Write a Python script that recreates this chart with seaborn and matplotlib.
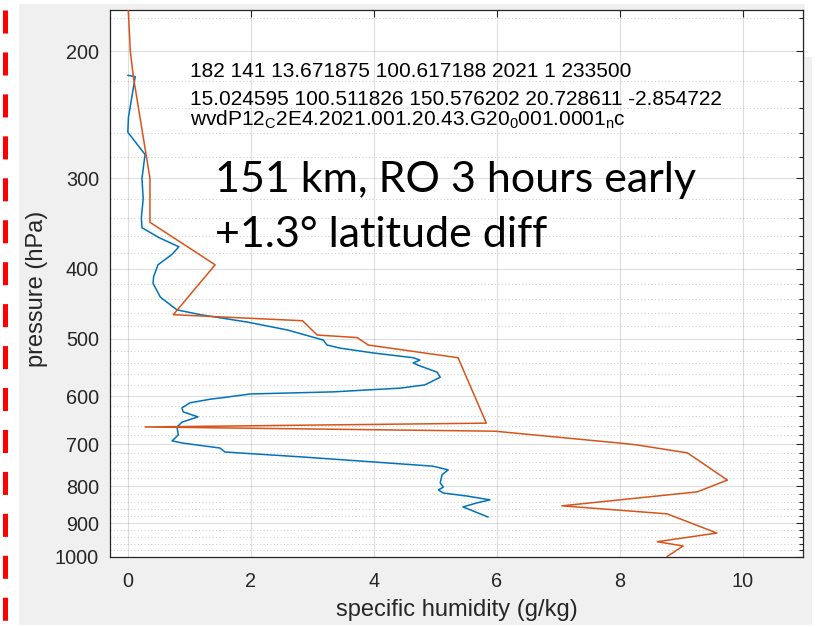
import matplotlib
matplotlib.use("Agg")
import matplotlib.pyplot as plt
import matplotlib.ticker as mticker
from matplotlib.patches import Rectangle
from matplotlib.lines import Line2D
import seaborn as sns
import pandas as pd

# ---------------- data ----------------
blue_q = [0.00, 0.12, 0.01, 0.00, 0.28, 0.23, 0.25, 0.22, 0.23, 0.50, 0.83, 0.72,
          0.49, 0.42, 0.41, 0.53, 0.80, 1.18, 1.94, 2.59, 3.18, 3.24, 3.45, 3.99,
          4.64, 4.75, 4.64, 4.75, 5.03, 5.08, 4.92, 4.83, 4.43, 3.34, 1.99, 1.61,
          1.34, 1.01, 0.88, 0.90, 1.14, 0.88, 0.80, 0.82, 0.72, 0.90, 1.50, 1.58,
          2.80, 3.99, 4.96, 5.21, 5.11, 5.08, 5.13, 5.05, 5.13, 5.52, 5.89, 5.68,
          5.45, 5.57, 5.86]
blue_p = [216, 217, 247, 259, 278, 300, 320, 340, 351, 362, 373, 382,
          395, 410, 419, 438, 456, 463, 474, 486, 502, 510, 515, 523,
          531, 535, 540, 545, 556, 565, 574, 579, 585, 592, 596, 602,
          606, 613, 623, 631, 641, 652, 662, 679, 692, 697, 708, 717,
          728, 740, 750, 759, 771, 791, 802, 809, 817, 825, 835, 843,
          854, 862, 882]

orange_q = [0.00, 0.04, 0.09, 0.36, 0.36, 1.42, 0.74, 2.84, 3.08, 3.73, 3.91, 5.37,
            5.83, 0.28, 5.97, 8.01, 8.28, 9.10, 9.75, 9.26, 7.06, 8.77, 9.58, 8.61,
            9.03, 8.77]
orange_p = [170, 200, 217, 300, 345, 395, 463, 472, 494, 498, 510, 531,
            654, 662, 671, 697, 701, 719, 784, 814, 851, 873, 928, 954,
            967, 1000]

x_ticks = [0, 2, 4, 6, 8, 10]
y_ticks = [200, 300, 400, 500, 600, 700, 800, 900, 1000]
y_minor = [180] + [p for p in range(220, 1000, 20) if p % 100 != 0]

info_line1 = "182 141 13.671875 100.617188 2021 1 233500"
info_line2 = "15.024595 100.511826 150.576202 20.728611 -2.854722"
info_line3 = (r"wvdP12$_\mathregular{C}$2E4.2021.001.20.43.G20$_\mathregular{0}$"
              r"001.0001$_\mathregular{n}$c")
note_line1 = "151 km, RO 3 hours early"
note_line2 = "+1.3° latitude diff"
x_label = "specific humidity (g/kg)"
y_label = "pressure (hPa)"

blue_df = pd.DataFrame({"q": blue_q, "p": blue_p})
orange_df = pd.DataFrame({"q": orange_q, "p": orange_p})

# ---------------- style ----------------
sns.set_style("white")
plt.rcParams["font.family"] = ["Liberation Sans", "DejaVu Sans"]
plt.rcParams["mathtext.fontset"] = "custom"
plt.rcParams["mathtext.rm"] = "Liberation Sans"

AX_COLOR = "#262626"
BLUE = "#0072BD"
ORANGE = "#D95319"
GRAY_BG = "#f0f0f0"

W, H = 820, 627
fig = plt.figure(figsize=(W / 100, H / 100), dpi=100)
fig.patch.set_facecolor("white")

# MATLAB figure grey window area
fig.patches.append(Rectangle((19 / W, (H - 625) / H), (805 - 19) / W, (625 - 4) / H,
                             transform=fig.transFigure, facecolor=GRAY_BG,
                             edgecolor="none", zorder=-10))
fig.patches.append(Rectangle((805 / W, (H - 625) / H), (812 - 805) / W, (625 - 57) / H,
                             transform=fig.transFigure, facecolor=GRAY_BG,
                             edgecolor="none", zorder=-10))

# red dashed slide marker at left
red = Line2D([5 / W, 5 / W], [(H - 10) / H, 0], transform=fig.transFigure,
             color="#ff0000", lw=3.6, solid_capstyle="butt")
red.set_dashes((16.6 / 3.6, 13.6 / 3.6))
red.set_dash_capstyle("butt")
fig.lines.append(red)

ax = fig.add_axes([110 / W, (H - 556.5) / H, (803 - 110) / W, (556.5 - 9.5) / H])
ax.set_facecolor("white")

sns.lineplot(data=blue_df, x="q", y="p", sort=False, estimator=None,
             color=BLUE, lw=1.1, ax=ax, zorder=3)
sns.lineplot(data=orange_df, x="q", y="p", sort=False, estimator=None,
             color=ORANGE, lw=1.1, ax=ax, zorder=3)

ax.set_yscale("log")
ax.set_ylim(1000, 175.2)
ax.set_xlim(-0.29, 10.98)

ax.yaxis.set_major_locator(mticker.FixedLocator(y_ticks))
ax.yaxis.set_major_formatter(mticker.FixedFormatter([str(t) for t in y_ticks]))
ax.yaxis.set_minor_locator(mticker.FixedLocator(y_minor))
ax.yaxis.set_minor_formatter(mticker.NullFormatter())
ax.xaxis.set_major_locator(mticker.FixedLocator(x_ticks))
ax.xaxis.set_major_formatter(mticker.FixedFormatter([str(t) for t in x_ticks]))

ax.grid(True, which="major", axis="both", color=AX_COLOR, alpha=0.15, lw=0.8, ls="-")
ax.grid(True, which="minor", axis="y", color=AX_COLOR, alpha=0.25, lw=0.7, ls=(0, (1, 2.5)))
ax.set_axisbelow(True)

for s in ax.spines.values():
    s.set_visible(True)
    s.set_color(AX_COLOR)
    s.set_linewidth(0.9)

ax.tick_params(axis="both", which="both", direction="in", colors=AX_COLOR,
               top=True, right=True, width=0.8)
ax.tick_params(axis="both", which="major", length=5, labelsize=14.3)
ax.tick_params(axis="y", which="minor", length=3)
ax.tick_params(axis="x", which="major", pad=11)
ax.tick_params(axis="y", which="major", pad=8)

ax.set_xlabel(x_label, fontsize=17, color=AX_COLOR)
ax.set_ylabel(y_label, fontsize=17, color=AX_COLOR)
ax.xaxis.set_label_coords(0.5, -0.078)
ax.yaxis.set_label_coords(-0.0895, 0.49)

# information text inside axes
ax.text(0.1154, 0.8766, info_line1, transform=ax.transAxes, fontsize=15,
        color="black", va="baseline", ha="left")
ax.text(0.1154, 0.8254, info_line2, transform=ax.transAxes, fontsize=15,
        color="black", va="baseline", ha="left")
ax.text(0.1154, 0.789, info_line3, transform=ax.transAxes, fontsize=15,
        color="black", va="baseline", ha="left")

# big slide annotation
fig.text(215 / W, (H - 192) / H, note_line1, fontsize=31, family=["Lato", "DejaVu Sans"],
         color="black", va="baseline", ha="left")
fig.text(215 / W, (H - 247) / H, note_line2, fontsize=31, family=["Lato", "DejaVu Sans"],
         color="black", va="baseline", ha="left")

fig.savefig("out.png", dpi=100, facecolor=fig.get_facecolor())
